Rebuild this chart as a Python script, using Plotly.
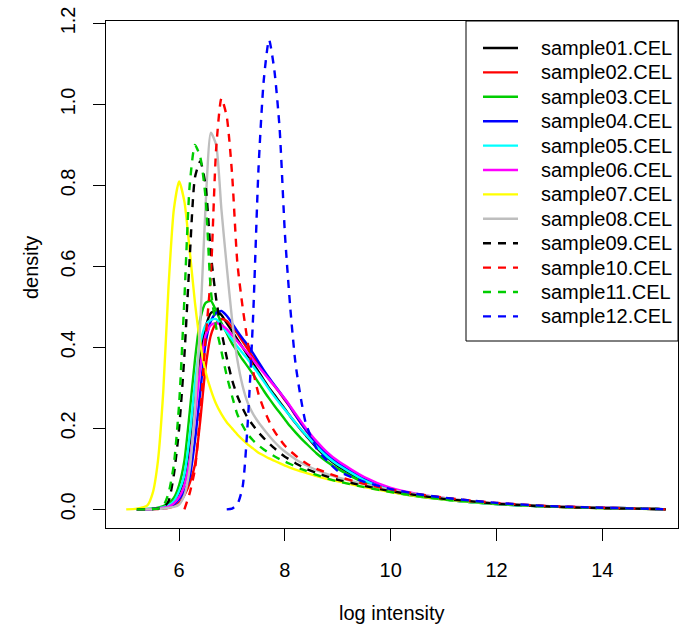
import plotly.graph_objects as go

# common grid of log intensity values (x) at which each density was read
x_grid = [5.0, 5.2, 5.4, 5.5, 5.6, 5.7, 5.8, 5.9,
          6.0, 6.1, 6.2, 6.3, 6.4, 6.5, 6.6, 6.7, 6.8, 6.9,
          7.0, 7.1, 7.2, 7.3, 7.4, 7.5, 7.6, 7.7, 7.8, 7.9,
          8.0, 8.1, 8.2, 8.3, 8.4, 8.6, 8.8, 9.0,
          9.5, 10.0, 10.5, 11.0, 11.5, 12.0, 13.0, 14.0, 15.0, 15.2]

sample01 = [None, 0.0, 0.0, 0.001, 0.002, 0.004, 0.009, 0.02,
            0.04, 0.08, 0.16, 0.27, 0.38, 0.45, 0.485, 0.49, 0.48, 0.46,
            0.44, 0.42, 0.40, 0.38, 0.36, 0.34, 0.32, 0.30, 0.283, 0.265,
            0.248, 0.23, 0.213, 0.197, 0.182, 0.152, 0.127, 0.107,
            0.07, 0.047, 0.034, 0.025, 0.018, 0.013, 0.007, 0.004, 0.001, 0.0]
sample02 = [None, 0.0, 0.0, 0.0, 0.001, 0.002, 0.004, 0.008,
            0.016, 0.035, 0.065, 0.11, 0.22, 0.35, 0.43, 0.46, 0.47, 0.465,
            0.45, 0.435, 0.415, 0.395, 0.375, 0.358, 0.34, 0.322, 0.305, 0.288,
            0.27, 0.252, 0.232, 0.213, 0.195, 0.162, 0.135, 0.113,
            0.074, 0.049, 0.035, 0.026, 0.019, 0.014, 0.007, 0.004, 0.001, 0.0]
sample03 = [None, 0.0, 0.001, 0.002, 0.004, 0.008, 0.015, 0.028,
            0.06, 0.12, 0.24, 0.37, 0.47, 0.51, 0.515, 0.49, 0.46, 0.435,
            0.41, 0.39, 0.37, 0.352, 0.333, 0.313, 0.293, 0.274, 0.256, 0.239,
            0.222, 0.205, 0.19, 0.176, 0.163, 0.138, 0.117, 0.1,
            0.066, 0.044, 0.032, 0.024, 0.018, 0.013, 0.007, 0.003, 0.001, 0.0]
sample04 = [None, 0.0, 0.0, 0.001, 0.002, 0.003, 0.006, 0.012,
            0.025, 0.045, 0.08, 0.17, 0.29, 0.41, 0.465, 0.485, 0.49, 0.478,
            0.46, 0.44, 0.422, 0.405, 0.385, 0.364, 0.344, 0.325, 0.307, 0.29,
            0.272, 0.253, 0.233, 0.214, 0.196, 0.163, 0.136, 0.114,
            0.075, 0.05, 0.035, 0.026, 0.019, 0.014, 0.007, 0.004, 0.001, 0.0]
sample05 = [None, 0.0, 0.001, 0.001, 0.003, 0.005, 0.01, 0.02,
            0.045, 0.085, 0.18, 0.31, 0.41, 0.455, 0.468, 0.47, 0.455, 0.438,
            0.42, 0.402, 0.386, 0.37, 0.353, 0.335, 0.316, 0.297, 0.279, 0.262,
            0.246, 0.23, 0.214, 0.198, 0.184, 0.155, 0.13, 0.11,
            0.072, 0.048, 0.034, 0.025, 0.018, 0.013, 0.007, 0.004, 0.001, 0.0]
sample06 = [None, 0.0, 0.0, 0.001, 0.002, 0.004, 0.007, 0.015,
            0.03, 0.06, 0.12, 0.23, 0.35, 0.43, 0.455, 0.46, 0.455, 0.445,
            0.43, 0.415, 0.4, 0.385, 0.369, 0.353, 0.337, 0.321, 0.305, 0.289,
            0.273, 0.255, 0.236, 0.218, 0.2, 0.168, 0.141, 0.12,
            0.08, 0.053, 0.038, 0.028, 0.02, 0.015, 0.008, 0.004, 0.001, 0.0]
sample07 = [0.0, 0.002, 0.01, 0.04, 0.12, 0.29, 0.55, 0.74,
            0.81, 0.76, 0.64, 0.51, 0.41, 0.34, 0.295, 0.26, 0.235, 0.215,
            0.2, 0.185, 0.172, 0.16, 0.15, 0.14, 0.133, 0.126, 0.12, 0.114,
            0.108, 0.103, 0.098, 0.094, 0.09, 0.082, 0.075, 0.069,
            0.055, 0.043, 0.033, 0.025, 0.019, 0.014, 0.007, 0.003, 0.001, 0.0]
sample08 = [None, 0.0, 0.0, 0.0, 0.001, 0.002, 0.004, 0.006,
            0.012, 0.035, 0.1, 0.25, 0.46, 0.75, 0.93, 0.9, 0.74, 0.6,
            0.47, 0.37, 0.305, 0.262, 0.235, 0.215, 0.198, 0.182, 0.167, 0.154,
            0.143, 0.133, 0.124, 0.116, 0.109, 0.097, 0.087, 0.079,
            0.062, 0.048, 0.037, 0.028, 0.021, 0.015, 0.008, 0.004, 0.001, 0.0]
sample09 = [None, 0.0, 0.0, 0.001, 0.002, 0.005, 0.02, 0.085,
            0.2, 0.38, 0.62, 0.82, 0.86, 0.8, 0.63, 0.52, 0.44, 0.375,
            0.32, 0.28, 0.25, 0.225, 0.207, 0.19, 0.176, 0.163, 0.151, 0.14,
            0.13, 0.122, 0.114, 0.107, 0.1, 0.09, 0.081, 0.073,
            0.058, 0.045, 0.035, 0.026, 0.02, 0.014, 0.007, 0.003, 0.001, 0.0]
sample10 = [None, None, None, None, None, None, None, None,
            None, 0.0, 0.04, 0.1, 0.24, 0.42, 0.58, 0.89, 1.015, 0.97,
            0.83, 0.61, 0.5, 0.41, 0.34, 0.285, 0.248, 0.218, 0.193, 0.174,
            0.157, 0.144, 0.133, 0.123, 0.114, 0.1, 0.09, 0.081,
            0.063, 0.049, 0.038, 0.029, 0.022, 0.016, 0.008, 0.004, 0.001, 0.0]
sample11 = [None, 0.0, 0.0, 0.001, 0.002, 0.008, 0.04, 0.11,
            0.26, 0.52, 0.8, 0.9, 0.87, 0.77, 0.54, 0.45, 0.39, 0.33,
            0.28, 0.235, 0.207, 0.185, 0.17, 0.158, 0.148, 0.139, 0.131, 0.124,
            0.118, 0.112, 0.106, 0.1, 0.095, 0.085, 0.076, 0.069,
            0.055, 0.043, 0.033, 0.025, 0.019, 0.014, 0.007, 0.003, 0.001, 0.0]
sample12 = [None, None, None, None, None, None, None, None,
            None, None, None, None, None, None, None, None, None, 0.0,
            0.002, 0.012, 0.055, 0.22, 0.48, 0.84, 1.06, 1.16, 1.085, 0.94,
            0.68, 0.5, 0.36, 0.275, 0.21, 0.15, 0.12, 0.095,
            0.068, 0.05, 0.038, 0.029, 0.022, 0.016, 0.008, 0.004, 0.001, 0.0]

names = ["sample01.CEL", "sample02.CEL", "sample03.CEL", "sample04.CEL",
         "sample05.CEL", "sample06.CEL", "sample07.CEL", "sample08.CEL",
         "sample09.CEL", "sample10.CEL", "sample11.CEL", "sample12.CEL"]
series = [sample01, sample02, sample03, sample04, sample05, sample06,
          sample07, sample08, sample09, sample10, sample11, sample12]
colors = ["#000000", "#FF0000", "#00CD00", "#0000FF", "#00FFFF", "#FF00FF",
          "#FFFF00", "#BEBEBE", "#000000", "#FF0000", "#00CD00", "#0000FF"]
dashes = ["solid"] * 8 + ["8px,7px"] * 4

x_ticks = [6, 8, 10, 12, 14]
y_ticks = [0.0, 0.2, 0.4, 0.6, 0.8, 1.0, 1.2]
y_ticktext = ["0.0", "0.2", "0.4", "0.6", "0.8", "1.0", "1.2"]

FONT = "Liberation Sans, Arial, Helvetica, sans-serif"
W, H = 679, 630
PL, PR, PT, PB = 106, 678, 21, 528   # plot box in pixels


def px_x(p):
    return (p - PL) / (PR - PL)


def px_y(p):
    return (PB - p) / (PB - PT)


fig = go.Figure()
for name, ys, col, dash in zip(names, series, colors, dashes):
    fig.add_trace(go.Scatter(x=x_grid, y=ys, name=name, mode="lines",
                             line=dict(color=col, width=2.4, dash=dash, shape="spline", smoothing=0.6),
                             showlegend=False))

# legend drawn R-style (box top right)
shapes = [dict(type="rect", xref="paper", yref="paper",
               x0=px_x(466), x1=px_x(678), y0=px_y(341), y1=px_y(21),
               line=dict(color="black", width=1), fillcolor="white", layer="above")]
annotations = []
for i, (name, col, dash) in enumerate(zip(names, colors, dashes)):
    yy = px_y(48 + i * 24.4)
    shapes.append(dict(type="line", xref="paper", yref="paper",
                       x0=px_x(483), x1=px_x(518), y0=yy, y1=yy,
                       line=dict(color=col, width=2.4, dash=dash), layer="above"))
    annotations.append(dict(text=name, xref="paper", yref="paper", x=px_x(539), y=yy,
                            xanchor="left", yanchor="middle", showarrow=False,
                            font=dict(size=20, color="black", family=FONT)))

annotations.append(dict(text="log intensity", xref="paper", yref="paper",
                        x=px_x(392), y=px_y(613), xanchor="center", yanchor="middle",
                        showarrow=False, font=dict(size=20, color="black", family=FONT)))
annotations.append(dict(text="density", xref="paper", yref="paper",
                        x=px_x(31), y=px_y(268), xanchor="center", yanchor="middle",
                        textangle=-90, showarrow=False,
                        font=dict(size=20, color="black", family=FONT)))

fig.update_layout(
    width=W, height=H,
    margin=dict(l=PL, r=W - PR, t=PT, b=H - PB, pad=0),
    paper_bgcolor="white", plot_bgcolor="white",
    font=dict(family=FONT, size=20, color="black"),
    shapes=shapes, annotations=annotations,
    xaxis=dict(range=[4.618, 15.43], tickvals=x_ticks, ticks="outside", ticklen=12,
               tickcolor="black", tickwidth=1, showline=True, linecolor="black", linewidth=1,
               mirror=True, showgrid=False, zeroline=False, ticklabelstandoff=12,
               tickfont=dict(size=20, family=FONT)),
    yaxis=dict(range=[-0.046, 1.206], tickvals=y_ticks, ticktext=y_ticktext, ticks="outside",
               ticklen=12, tickcolor="black", tickwidth=1, showline=True, linecolor="black",
               linewidth=1, mirror=True, showgrid=False, zeroline=False, tickangle=-90,
               ticklabelstandoff=10, tickfont=dict(size=20, family=FONT)),
)

# the page body has a default 8px margin; remove it so the figure sits at the corner
fig.write_html("out.html", config={"displayModeBar": False},
               post_script="document.body.style.margin='0';")
